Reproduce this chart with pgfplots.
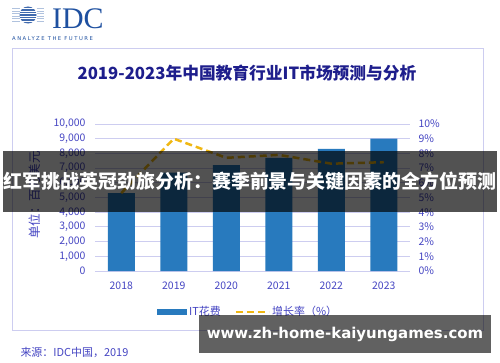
\documentclass[border=0pt]{standalone}
\usepackage{fontspec}
\setmainfont{Noto Sans CJK SC}
\newfontfamily\urlfont{DejaVu Sans}
\newfontfamily\seriffont{Liberation Serif}
\usepackage{pgfplots}
\pgfplotsset{compat=1.18}
\definecolor{barblue}{RGB}{40,122,190}
\definecolor{gold}{RGB}{240,184,20}
\definecolor{tickc}{RGB}{70,70,195}
\definecolor{gridc}{RGB}{205,205,240}
\definecolor{titlec}{RGB}{30,30,140}
\definecolor{idcblue}{RGB}{30,80,160}
\begin{document}
\begin{tikzpicture}[x=1bp,y=1bp]
\useasboundingbox (0,0) rectangle (500,362);
\fill[white] (0,0) rectangle (500,362);
% logo
\fill[idcblue!85] (28,347) circle (8.5);
\foreach \yy in {-6,-3.5,...,7} {\draw[white, line width=0.7bp] (18,347+\yy) -- (38,347+\yy);}
\foreach \yy in {-6,-3.5,...,7} {\draw[idcblue!35, line width=0.7bp] (12,347+\yy) -- (19.5,347+\yy);}
\foreach \yy in {-6,-3.5,...,7} {\draw[idcblue!35, line width=0.7bp] (36.5,347+\yy) -- (44,347+\yy);}
\node[font=\seriffont\fontsize{30}{30}\selectfont, text=idcblue, anchor=west, inner sep=0] at (52,343) {IDC};
\node[font=\urlfont\fontsize{5.3}{6}\selectfont\addfontfeatures{LetterSpace=28}, text=idcblue, anchor=west, inner sep=0] at (12,323) {ANALYZE THE FUTURE};
% frame
\draw[gridc, line width=0.8bp] (12,32) rectangle (483,314);
\node[font=\bfseries\fontsize{16.8}{20}\selectfont, text=titlec] at (247,289) {2019-2023年中国教育行业IT市场预测与分析};
\node[font=\fontsize{12.5}{14}\selectfont, text=tickc, rotate=90] at (35,167) {单位：百万美元};

\begin{axis}[at={(95bp,91bp)}, anchor=south west,
  width=315bp, height=147bp, scale only axis,
  xmin=-0.5, xmax=5.5, ymin=0, ymax=10000,
  xtick={0,1,2,3,4,5}, xticklabels={2018,2019,2020,2021,2022,2023},
  ytick={0,1000,...,10000},
  scaled y ticks=false,
  /pgf/number format/.cd, 1000 sep={,}, assume math mode=true, /pgfplots/.cd,
  ymajorgrids, grid style={gridc, line width=0.9bp},
  axis line style={draw=none}, major tick length=0pt,
  tick label style={text=tickc, font=\fontsize{10.5}{12}\selectfont},
  yticklabel style={xshift=-6bp},
  xticklabel style={yshift=-7bp},
  legend style={draw=none, fill=none, at={(0.486,-0.279)}, anchor=center,
    font=\fontsize{11}{12}\selectfont, text=tickc, legend columns=2,
    /tikz/every even column/.append style={column sep=12bp}},
]
\addplot[ybar, bar width=27bp, fill=barblue, draw=none,
  legend image code/.code={\fill[barblue] (0bp,-3bp) rectangle (30bp,3bp);}]
  coordinates {(0,5300) (1,6700) (2,7200) (3,7700) (4,8300) (5,9000)};
\addlegendentry{IT花费}
\addlegendimage{legend image code/.code={\draw[gold,line width=2.5bp,dash pattern=on 7bp off 4bp] (0bp,0bp) -- (33bp,0bp);}}
\addlegendentry{增长率（\%）}
\end{axis}

\begin{axis}[at={(95bp,91bp)}, anchor=south west,
  width=315bp, height=147bp, scale only axis,
  xmin=-0.5, xmax=5.5, ymin=0, ymax=10,
  axis y line*=right, axis x line=none,
  ytick={0,1,...,10},
  yticklabel={\pgfmathprintnumber{\tick}\%},
  /pgf/number format/assume math mode=true,
  axis line style={draw=none}, major tick length=0pt,
  tick label style={text=tickc, font=\fontsize{10.5}{12}\selectfont},
  yticklabel style={xshift=5bp},
]
\addplot[gold, line width=2.5bp, dash pattern=on 7bp off 4bp]
  coordinates {(0,5.3) (1,9.0) (2,7.7) (3,7.9) (4,7.3) (5,7.4)};
\end{axis}

\node[font=\fontsize{11}{12}\selectfont, text=tickc, anchor=west] at (17,10) {来源：IDC中国，2019};
% overlays
\fill[black, fill opacity=0.68] (3,150) rectangle (497,211);
\node[font=\bfseries\fontsize{19}{20}\selectfont, text=white] at (250,181) {红军挑战英冠劲旅分析：赛季前景与关键因素的全方位预测};
\fill[black, fill opacity=0.62] (199,9) rectangle (491,47);
\node[font=\urlfont\bfseries\fontsize{15}{16}\selectfont, text=white] at (345,28) {www.zh-home-kaiyungames.com};
\end{tikzpicture}
\end{document}
